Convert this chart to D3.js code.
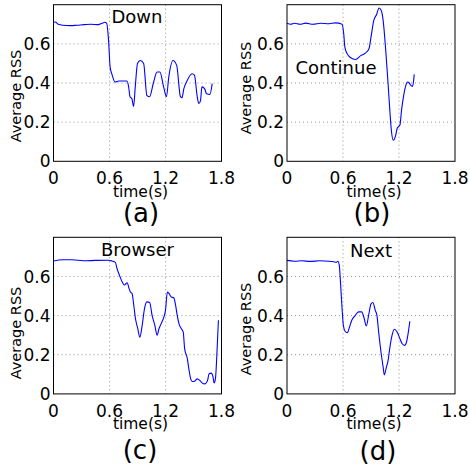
<!DOCTYPE html>
<html>
<head>
<meta charset="utf-8">
<script src="https://cdn.jsdelivr.net/npm/d3@7"></script>
<style>
  body { margin: 0; background: #fff; }
  svg { display: block; font-family: "DejaVu Sans", sans-serif; }
</style>
</head>
<body>
<svg id="chart" width="470" height="470"></svg>
<script>
// values (time in s, average RSS)
const downT = [0, 0.02, 0.05, 0.1, 0.18, 0.25, 0.33, 0.4, 0.48, 0.52, 0.55, 0.57, 0.59, 0.607, 0.625, 0.66, 0.7, 0.787, 0.805, 0.82, 0.84, 0.858, 0.876, 0.9, 0.93, 0.966, 1.0, 1.03, 1.07, 1.11, 1.14, 1.18, 1.21, 1.235, 1.28, 1.32, 1.36, 1.377, 1.396, 1.43, 1.485, 1.51, 1.54, 1.557, 1.575, 1.59, 1.62, 1.64, 1.676, 1.70];
const downV = [0.71, 0.712, 0.70, 0.695, 0.693, 0.695, 0.698, 0.70, 0.698, 0.705, 0.71, 0.705, 0.617, 0.48, 0.447, 0.405, 0.41, 0.41, 0.38, 0.33, 0.32, 0.28, 0.38, 0.50, 0.515, 0.50, 0.337, 0.33, 0.40, 0.456, 0.456, 0.38, 0.33, 0.43, 0.515, 0.49, 0.33, 0.325, 0.37, 0.41, 0.447, 0.44, 0.33, 0.295, 0.31, 0.38, 0.37, 0.345, 0.342, 0.397];

const continueT = [0, 0.04, 0.08, 0.14, 0.2, 0.28, 0.36, 0.45, 0.52, 0.59, 0.608, 0.62, 0.644, 0.68, 0.734, 0.79, 0.84, 0.878, 0.90, 0.93, 0.96, 0.986, 1.01, 1.03, 1.058, 1.083, 1.104, 1.12, 1.14, 1.165, 1.18, 1.21, 1.227, 1.248, 1.273, 1.29, 1.31, 1.327, 1.345, 1.356, 1.363];
const continueV = [0.705, 0.70, 0.705, 0.70, 0.706, 0.70, 0.705, 0.703, 0.707, 0.70, 0.65, 0.583, 0.55, 0.53, 0.52, 0.54, 0.553, 0.575, 0.634, 0.72, 0.75, 0.783, 0.77, 0.72, 0.566, 0.397, 0.244, 0.15, 0.108, 0.134, 0.168, 0.185, 0.26, 0.33, 0.388, 0.405, 0.40, 0.388, 0.383, 0.41, 0.444];

const browserT = [0, 0.1, 0.2, 0.32, 0.45, 0.59, 0.627, 0.663, 0.68, 0.706, 0.735, 0.76, 0.789, 0.81, 0.824, 0.842, 0.86, 0.878, 0.903, 0.925, 0.95, 0.975, 1.0, 1.03, 1.057, 1.086, 1.11, 1.13, 1.154, 1.183, 1.2, 1.22, 1.237, 1.26, 1.29, 1.308, 1.326, 1.344, 1.37, 1.39, 1.405, 1.434, 1.45, 1.47, 1.487, 1.51, 1.54, 1.57, 1.595, 1.62, 1.65, 1.667, 1.69, 1.71, 1.72, 1.735, 1.75, 1.767];
const browserV = [0.679, 0.685, 0.685, 0.68, 0.682, 0.683, 0.679, 0.672, 0.641, 0.607, 0.573, 0.556, 0.568, 0.538, 0.521, 0.513, 0.453, 0.385, 0.333, 0.29, 0.35, 0.436, 0.47, 0.467, 0.40, 0.35, 0.30, 0.333, 0.359, 0.393, 0.427, 0.52, 0.513, 0.496, 0.49, 0.453, 0.40, 0.359, 0.333, 0.316, 0.231, 0.18, 0.128, 0.077, 0.063, 0.065, 0.077, 0.068, 0.055, 0.051, 0.068, 0.103, 0.106, 0.085, 0.056, 0.077, 0.197, 0.376];

const nextT = [0, 0.08, 0.16, 0.25, 0.35, 0.45, 0.5, 0.53, 0.545, 0.56, 0.575, 0.59, 0.604, 0.622, 0.647, 0.67, 0.694, 0.73, 0.766, 0.80, 0.827, 0.85, 0.874, 0.90, 0.92, 0.946, 0.964, 0.982, 1.007, 1.03, 1.043, 1.065, 1.083, 1.10, 1.126, 1.15, 1.18, 1.21, 1.234, 1.26, 1.28, 1.30, 1.316];
const nextV = [0.682, 0.678, 0.68, 0.677, 0.68, 0.678, 0.675, 0.672, 0.678, 0.658, 0.556, 0.436, 0.35, 0.32, 0.313, 0.342, 0.376, 0.40, 0.419, 0.419, 0.385, 0.347, 0.40, 0.46, 0.467, 0.427, 0.40, 0.316, 0.214, 0.137, 0.097, 0.137, 0.17, 0.23, 0.30, 0.33, 0.316, 0.282, 0.256, 0.248, 0.265, 0.316, 0.371];

const xTicks = [0, 0.6, 1.2, 1.8];
const xTickLabels = ["0", "0.6", "1.2", "1.8"];
const yTicks = [0, 0.2, 0.4, 0.6];
const yTickLabels = ["0", "0.2", "0.4", "0.6"];
const gridX = [0.6, 1.2];
const gridY = [0.2, 0.4, 0.6];

const titles = ["Down", "Continue", "Browser", "Next"];
const letters = ["(a)", "(b)", "(c)", "(d)"];
const seriesT = [downT, continueT, browserT, nextT];
const seriesV = [downV, continueV, browserV, nextV];

// layout of each subplot (pixels)
const panels = [
  { left: 53.5, top: 4.7, titleX: 137, titleY: 23, labelX: 141, labelY: 222, ylabX: 15.5, ylabY: 96 },
  { left: 287, top: 4.7, titleX: 336, titleY: 74, labelX: 372, labelY: 222, ylabX: 245.5, ylabY: 88 },
  { left: 53.5, top: 237.3, titleX: 137.5, titleY: 256, labelX: 140, labelY: 459, ylabX: 15.5, ylabY: 333 },
  { left: 287, top: 237.3, titleX: 371, titleY: 257, labelX: 378, labelY: 460, ylabX: 245.5, ylabY: 329 }
];
const W = 168, H = 156.6;

const svg = d3.select("#chart");

panels.forEach((p, k) => {
  const x = d3.scaleLinear().domain([0, 1.8]).range([p.left, p.left + W]);
  const y = d3.scaleLinear().domain([0, 0.8]).range([p.top + H, p.top]);
  const g = svg.append("g").attr("class", "panel");

  // dotted grid
  g.selectAll(".gx").data(gridX).enter().append("line")
      .attr("x1", d => x(d)).attr("x2", d => x(d))
      .attr("y1", p.top).attr("y2", p.top + H)
      .attr("stroke", "#777").attr("stroke-width", 0.8)
      .attr("stroke-dasharray", "1,3");
  g.selectAll(".gy").data(gridY).enter().append("line")
      .attr("x1", p.left).attr("x2", p.left + W)
      .attr("y1", d => y(d)).attr("y2", d => y(d))
      .attr("stroke", "#777").attr("stroke-width", 0.8)
      .attr("stroke-dasharray", "1,3");

  // the series
  const pts = seriesT[k].map((t, i) => [t, seriesV[k][i]]);
  const line = d3.line()
      .x(d => x(d[0]))
      .y(d => y(d[1]))
      .curve(d3.curveMonotoneX);
  g.append("path")
      .attr("d", line(pts))
      .attr("fill", "none")
      .attr("stroke", "#0000ff")
      .attr("stroke-width", 1.1);

  // frame
  g.append("rect")
      .attr("x", p.left).attr("y", p.top)
      .attr("width", W).attr("height", H)
      .attr("fill", "none").attr("stroke", "#000").attr("stroke-width", 1);

  // tick labels
  g.selectAll(".xt").data(xTicks).enter().append("text")
      .attr("x", d => x(d)).attr("y", p.top + H + 23)
      .attr("text-anchor", "middle")
      .style("font-size", "17px")
      .text((d, i) => xTickLabels[i]);
  g.selectAll(".yt").data(yTicks).enter().append("text")
      .attr("x", p.left - 3).attr("y", d => y(d))
      .attr("dy", "0.36em")
      .attr("text-anchor", "end")
      .style("font-size", "17px")
      .text((d, i) => yTickLabels[i]);

  // axis labels
  g.append("text")
      .attr("x", p.left + W / 2 + 3).attr("y", p.top + H + 35.5)
      .attr("text-anchor", "middle")
      .style("font-size", "15.5px")
      .text("time(s)");
  g.append("text")
      .attr("transform", `translate(${p.ylabX}, ${p.ylabY}) rotate(-90)`)
      .attr("dy", "0.35em")
      .attr("text-anchor", "middle")
      .style("font-size", "14.5px")
      .text("Average RSS");

  // title inside the plot, and subplot letter
  g.append("text")
      .attr("x", p.titleX).attr("y", p.titleY)
      .attr("text-anchor", "middle")
      .style("font-size", "18px")
      .text(titles[k]);
  g.append("text")
      .attr("x", p.labelX).attr("y", p.labelY)
      .attr("text-anchor", "middle")
      .style("font-size", "26px")
      .text(letters[k]);
});
</script>
</body>
</html>
